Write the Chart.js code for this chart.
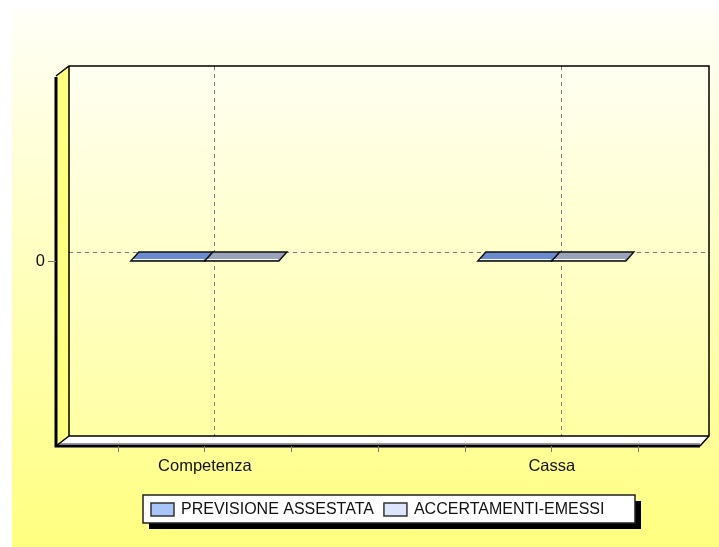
<!DOCTYPE html>
<html>
<head>
<meta charset="utf-8">
<script src="https://cdn.jsdelivr.net/npm/chart.js@4.4.1/dist/chart.umd.min.js"></script>
<style>
html, body { margin: 0; padding: 0; background: #fff; }
</style>
</head>
<body>
<canvas id="myChart" width="719" height="547"></canvas>
<script>
// chart data
const categories = ['Competenza', 'Cassa']
const seriesNames = ['PREVISIONE ASSESTATA', 'ACCERTAMENTI-EMESSI']
const previsione = [0, 0]
const accertamenti = [0, 0]
const yTicks = [0]

const slabColors = ['#6a8bd0', '#9ba3ba']
const legendColors = ['#a8c5fa', '#dbe5fb']
const FONT = '"Liberation Sans", Arial, sans-serif'

// 3D depth of the walls
const DX = 13, DY = 10

function yellowGrad(ctx, y0, y1, c0, c1) {
    let g = ctx.createLinearGradient(0, y0, 0, y1)
    g.addColorStop(0, c0)
    g.addColorStop(1, c1)
    return g
}

const backdrop = {
    id: 'backdrop',
    beforeDraw(chart) {
        const ctx = chart.ctx
        const a = chart.chartArea
        const L = a.left, R = a.right, T = a.top, B = a.bottom
        ctx.save()
        ctx.fillStyle = '#fff'
        ctx.fillRect(0, 0, chart.width, chart.height)
        ctx.fillStyle = yellowGrad(ctx, 10, chart.height, '#fffff8', '#ffff80')
        ctx.fillRect(12, 10, chart.width - 12, chart.height - 10)

        // back wall
        ctx.fillStyle = yellowGrad(ctx, T - DY, B - DY, '#fffff2', '#ffffa4')
        ctx.fillRect(L + DX, T - DY, R + 9 - (L + DX), B - T)

        // left wall
        ctx.fillStyle = '#ffff80'
        ctx.beginPath()
        ctx.moveTo(L, T)
        ctx.lineTo(L + DX, T - DY)
        ctx.lineTo(L + DX, B - DY)
        ctx.lineTo(L, B)
        ctx.closePath()
        ctx.fill()

        // floor
        ctx.fillStyle = '#ffffff'
        ctx.beginPath()
        ctx.moveTo(L, B)
        ctx.lineTo(L + DX, B - DY)
        ctx.lineTo(R + 9, B - DY)
        ctx.lineTo(R, B)
        ctx.closePath()
        ctx.fill()
        ctx.strokeStyle = '#999'
        ctx.lineWidth = 1
        ctx.beginPath()
        ctx.moveTo(L + 2, B - 2.5)
        ctx.lineTo(R, B - 2.5)
        ctx.stroke()

        // dashed grid on the back wall
        ctx.strokeStyle = '#7a7a7a'
        ctx.setLineDash([4, 4])
        ctx.lineWidth = 1
        const y0 = chart.scales.y.getPixelForValue(0) - 9
        ctx.beginPath()
        ctx.moveTo(L + DX, Math.round(y0) + 0.5)
        ctx.lineTo(R + 9, Math.round(y0) + 0.5)
        categories.forEach((c, i) => {
            const x = Math.round(chart.scales.x.getPixelForValue(i) + 9) + 0.5
            ctx.moveTo(x, T - DY)
            ctx.lineTo(x, B - DY)
        })
        ctx.stroke()
        ctx.setLineDash([])

        // edges
        ctx.strokeStyle = '#000'
        ctx.lineWidth = 1.5
        ctx.beginPath()
        ctx.moveTo(L, T)
        ctx.lineTo(L + DX, T - DY)
        ctx.lineTo(R + 9, T - DY)
        ctx.lineTo(R + 9, B - DY)
        ctx.lineTo(R, B)
        ctx.moveTo(L + DX, T - DY)
        ctx.lineTo(L + DX, B - DY)
        ctx.lineTo(R + 9, B - DY)
        ctx.moveTo(L + DX, B - DY)
        ctx.lineTo(L, B)
        ctx.stroke()
        ctx.lineWidth = 3
        ctx.beginPath()
        ctx.moveTo(L, T + 1)
        ctx.lineTo(L, B)
        ctx.lineTo(R, B)
        ctx.stroke()
        ctx.restore()
    }
}

// zero valued bars are drawn as flat slabs
const slabs = {
    id: 'slabs',
    afterDatasetsDraw(chart) {
        const ctx = chart.ctx
        ctx.save()
        chart.data.datasets.forEach((ds, d) => {
            chart.getDatasetMeta(d).data.forEach(bar => {
                const x0 = bar.x - bar.width / 2, x1 = bar.x + bar.width / 2
                const top = bar.y, base = bar.base
                ctx.fillStyle = slabColors[d]
                ctx.beginPath()
                ctx.moveTo(x0, base)
                ctx.lineTo(x1, base)
                ctx.lineTo(x1 + 8, top - 9)
                ctx.lineTo(x0 + 8, top - 9)
                ctx.closePath()
                ctx.fill()
                ctx.strokeStyle = '#111'
                ctx.lineWidth = 1.5
                ctx.stroke()
                ctx.strokeStyle = '#fff'
                ctx.lineWidth = 1
                ctx.beginPath()
                ctx.moveTo(x0 + 2, base - 1.5)
                ctx.lineTo(x1 - 1, base - 1.5)
                ctx.stroke()
            })
        })
        ctx.restore()
    }
}

const boxLegend = {
    id: 'boxLegend',
    afterDraw(chart) {
        const ctx = chart.ctx
        const bx = 143, by = 495, bw = 492, bh = 28
        ctx.save()
        ctx.fillStyle = '#000'
        ctx.fillRect(bx + 6, by + 6, bw, bh)
        ctx.fillStyle = '#fff'
        ctx.fillRect(bx, by, bw, bh)
        ctx.strokeStyle = '#222'
        ctx.lineWidth = 1.5
        ctx.strokeRect(bx, by, bw, bh)
        ctx.font = '16px ' + FONT
        ctx.textBaseline = 'middle'
        let x = bx + 8
        chart.data.datasets.forEach((ds, i) => {
            ctx.fillStyle = legendColors[i]
            ctx.fillRect(x, by + 8, 23, 13)
            ctx.strokeStyle = '#333'
            ctx.strokeRect(x, by + 8, 23, 13)
            x += 30
            ctx.fillStyle = '#111'
            ctx.fillText(ds.label, x, by + 15)
            x += ctx.measureText(ds.label).width + 10
        })
        ctx.restore()
    }
}

const ctx = document.getElementById('myChart')
const myChart = new Chart(ctx, {
    type: 'bar',
    data: {
        datasets: [{
            label: seriesNames[0],
            data: previsione.map((v, i) => ({ x: i, y: v })),
            backgroundColor: slabColors[0]
        }, {
            label: seriesNames[1],
            data: accertamenti.map((v, i) => ({ x: i, y: v })),
            backgroundColor: slabColors[1]
        }]
    },
    plugins: [backdrop, slabs, boxLegend],
    options: {
        responsive: false,
        animation: false,
        barThickness: 74,
        layout: { padding: { left: 12, top: 76, right: 19, bottom: 61 } },
        plugins: { legend: { display: false }, tooltip: { enabled: false } },
        scales: {
            x: {
                type: 'linear',
                offset: false,
                min: -0.429,
                max: 1.427,
                afterBuildTicks: s => {
                    let t = []
                    for (let k = -1; k <= 5; k++) t.push({ value: k * 0.25 })
                    s.ticks = t
                },
                afterFit: s => { s.height = 40 },
                grid: { drawOnChartArea: false, offset: false, tickLength: 6, color: '#777' },
                border: { display: false },
                ticks: {
                    padding: 5,
                    color: '#111',
                    font: { family: FONT, size: 16.5 },
                    maxRotation: 0,
                    autoSkip: false,
                    callback: v => Number.isInteger(v) && categories[v] ? categories[v] : ''
                }
            },
            y: {
                min: -1,
                max: 1,
                afterBuildTicks: s => { s.ticks = yTicks.map(v => ({ value: v })) },
                afterFit: s => { s.width = 44 },
                grid: { drawOnChartArea: false, tickLength: 8, color: '#777' },
                border: { display: false },
                ticks: {
                    padding: 3,
                    color: '#111',
                    font: { family: FONT, size: 16.5 }
                }
            }
        }
    }
})
</script>
</body>
</html>
